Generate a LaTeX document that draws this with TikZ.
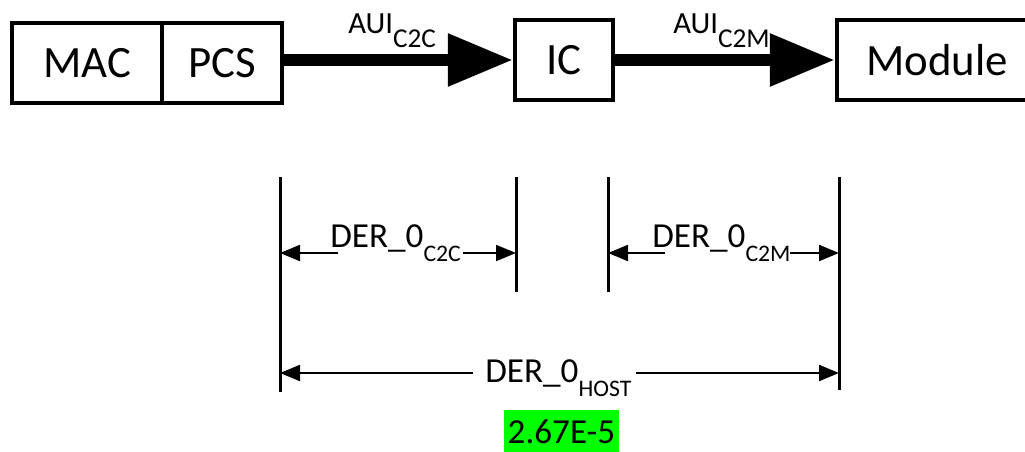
\documentclass[tikz,border=0pt]{standalone}
\usepackage{fontspec}
\setmainfont{Carlito}
\usetikzlibrary{arrows.meta}
\definecolor{hlgreen}{RGB}{0,255,0}
\newcommand{\lowsub}[2][13.5]{\raisebox{-8pt}{\fontsize{#1}{16}\selectfont #2}}
\tikzset{
  block/.style={draw=black, line width=0.085cm, minimum height=1.6cm, inner sep=0pt, font=\fontsize{25.5}{28}\selectfont},
  bus/.style={line width=0.24cm, -{Triangle[length=1.3cm,width=1cm]}},
  buslabel/.style={anchor=base west, inner sep=0pt, font=\fontsize{17.5}{19}\selectfont},
  tick/.style={line width=0.06cm},
  span/.style={line width=0.04cm, -{Triangle[length=0.4cm,width=0.32cm]}},
  spanlabel/.style={anchor=base west, inner sep=0pt, font=\fontsize{20}{22}\selectfont},
  hilite/.style={fill=hlgreen, minimum width=2.3cm, minimum height=0.9cm, inner sep=0pt, font=\fontsize{20}{22}\selectfont},
}

\begin{document}
\begin{tikzpicture}
\useasboundingbox (0,0) rectangle (20.5,9.02);
\node[block, minimum width=3.0cm] (mac) at (1.74,7.76) {MAC};
\node[block, minimum width=2.4cm] (pcs) at (4.44,7.76) {PCS};
\node[block, minimum width=1.96cm] (ic) at (11.28,7.82) {IC};
\node[block, minimum width=4.0cm] (module) at (18.74,7.82) {Module};
\draw[bus] (pcs.east |- ic.west) -- (ic.west);
\draw[bus] (ic.east) -- (module.west);
\node[buslabel] (auic2c) at (6.96,8.36) {AUI\lowsub[15.5]{C2C}};
\node[buslabel] (auic2m) at (13.46,8.36) {AUI\lowsub[15.5]{C2M}};
\coordinate (t1) at (5.60,5.48);
\coordinate (b1) at (5.60,1.18);
\coordinate (t2) at (10.32,5.48);
\coordinate (b2) at (10.32,3.18);
\coordinate (t3) at (12.16,5.48);
\coordinate (b3) at (12.16,3.18);
\coordinate (t4) at (16.78,5.48);
\coordinate (b4) at (16.78,1.22);
\foreach \i in {1,...,4}
  \draw[tick] (t\i) -- (b\i);
\node[spanlabel] (derc2c) at (6.60,4.08) {DER\_0\lowsub{C2C}};
\node[spanlabel] (derc2m) at (13.04,4.08) {DER\_0\lowsub{C2M}};
\node[spanlabel] (derhost) at (9.70,1.38) {DER\_0\lowsub{HOST}};
\coordinate (c2cl) at (6.76,3.96);
\coordinate (c2cr) at (9.26,3.96);
\coordinate (c2ml) at (13.30,3.96);
\coordinate (c2mr) at (15.80,3.96);
\coordinate (hostl) at (9.46,1.56);
\coordinate (hostr) at (12.72,1.56);
\draw[span] (c2cl) -- (c2cl -| t1);
\draw[span] (c2cr) -- (c2cr -| t2);
\draw[span] (c2ml) -- (c2ml -| t3);
\draw[span] (c2mr) -- (c2mr -| t4);
\draw[span] (hostl) -- (hostl -| t1);
\draw[span] (hostr) -- (hostr -| t4);
\node[hilite] (ber) at (11.23,0.38) {2.67E-5};
\end{tikzpicture}
\end{document}
